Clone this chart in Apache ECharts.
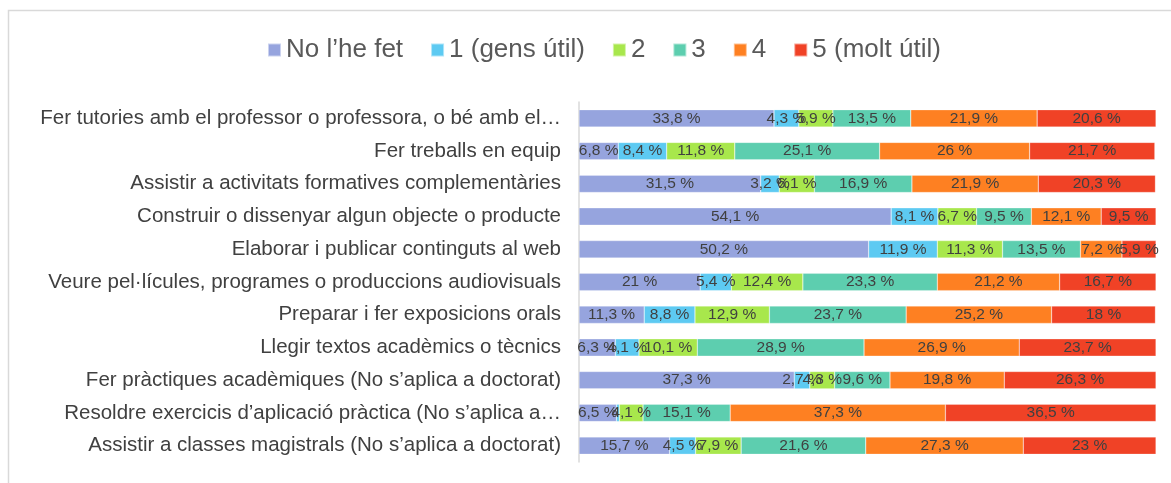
<!DOCTYPE html>
<html><head><meta charset="utf-8">
<script src="https://cdn.jsdelivr.net/npm/echarts@6/dist/echarts.min.js"></script>
<style>html,body{margin:0;padding:0;background:#fff}#c{width:1171px;height:483px}</style>
</head><body><div id="c"></div>
<script>
const categories = [
  "Fer tutories amb el professor o professora, o bé amb el…",
  "Fer treballs en equip",
  "Assistir a activitats formatives complementàries",
  "Construir o dissenyar algun objecte o producte",
  "Elaborar i publicar continguts al web",
  "Veure pel·lícules, programes o produccions audiovisuals",
  "Preparar i fer exposicions orals",
  "Llegir textos acadèmics o tècnics",
  "Fer pràctiques acadèmiques (No s’aplica a doctorat)",
  "Resoldre exercicis d’aplicació pràctica (No s’aplica a…",
  "Assistir a classes magistrals (No s’aplica a doctorat)"
];
const seriesNames = ["No l’he fet", "1 (gens útil)", "2", "3", "4", "5 (molt útil)"];
const noFet = [33.8, 6.8, 31.5, 54.1, 50.2, 21, 11.3, 6.3, 37.3, 6.5, 15.7];
const v1 = [4.3, 8.4, 3.2, 8.1, 11.9, 5.4, 8.8, 4.1, 2.7, 0.5, 4.5];
const v2 = [5.9, 11.8, 6.1, 6.7, 11.3, 12.4, 12.9, 10.1, 4.3, 4.1, 7.9];
const v3 = [13.5, 25.1, 16.9, 9.5, 13.5, 23.3, 23.7, 28.9, 9.6, 15.1, 21.6];
const v4 = [21.9, 26, 21.9, 12.1, 7.2, 21.2, 25.2, 26.9, 19.8, 37.3, 27.3];
const v5 = [20.6, 21.7, 20.3, 9.5, 5.9, 16.7, 18, 23.7, 26.3, 36.5, 23];
const colors = ["#96A4DE", "#5DCAF2", "#A8E74C", "#5DCEAF", "#FE8022", "#F04226"];
const allData = [noFet, v1, v2, v3, v4, v5];

const chart = echarts.init(document.getElementById('c'));
chart.setOption({
  animation: false,
  textStyle: { fontFamily: "Liberation Sans, Arial, sans-serif" },
  graphic: [{
    type: 'rect', shape: { x: 8.5, y: 10.5, width: 1200, height: 600 },
    style: { fill: 'none', stroke: '#d9d9d9', lineWidth: 1.5 }, silent: true, z: -1
  }],
  legend: {
    top: 32, left: 262, itemWidth: 13, itemHeight: 13, itemGap: 27,
    icon: 'rect',
    textStyle: { fontSize: 26, color: '#595959', fontFamily: "Liberation Sans, Arial, sans-serif", padding: [0, 0, 0, 0] },
    data: seriesNames
  },
  grid: { left: 579, right: 15, top: 102, bottom: 21, containLabel: false },
  xAxis: { type: 'value', min: 0, max: 100, show: false },
  yAxis: {
    type: 'category', data: categories, inverse: true,
    axisLine: { show: true, lineStyle: { color: '#d9d9d9', width: 1.5 } },
    axisTick: { show: false },
    axisLabel: { fontSize: 20.5, color: '#404040', margin: 18 }
  },
  series: allData.map((d, i) => ({
    name: seriesNames[i], type: 'bar', stack: 'all', data: d, barWidth: '53%',
    itemStyle: { color: colors[i], borderColor: 'rgba(255,255,255,0.5)', borderWidth: 0.5 },
    label: {
      show: true, position: 'inside', fontSize: 15.5, color: '#404040',
      formatter: p => p.value < 1 ? '' : String(p.value).replace('.', ',') + ' %'
    }
  }))
});
</script></body></html>
